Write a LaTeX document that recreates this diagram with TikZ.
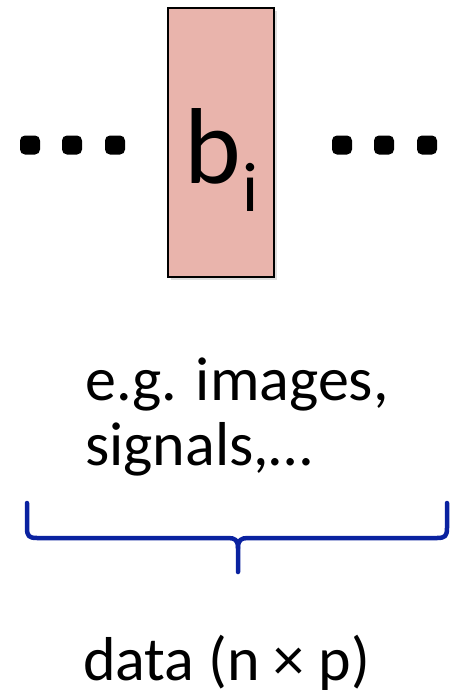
\documentclass[tikz,border=0pt]{standalone}
\usepackage{fontspec}
\setmainfont{Carlito}
\usepackage{xcolor}
\usepackage{tikz}
\usetikzlibrary{positioning, shadows}
\definecolor{blockpink}{RGB}{233,180,172}
\definecolor{bracenavy}{RGB}{10,34,160}

\begin{document}
\begin{tikzpicture}[
    x=1pt, y=-1pt,
    block/.style={draw, line width=1.5pt, fill=blockpink, minimum width=106pt,
                minimum height=269pt, inner sep=0pt,
                drop shadow={shadow xshift=2.5pt, shadow yshift=-2.5pt, opacity=0.25}},
    dotmark/.style={fill=black, minimum width=20pt, minimum height=19pt,
                inner sep=0pt, rounded corners=5pt},
    caption/.style={inner sep=0pt, align=left, font=\fontsize{62}{65}\selectfont},
    brace/.style={draw=bracenavy, line width=4.5pt, line cap=round, line join=round}
]
\useasboundingbox (0,0) rectangle (460,691);
\node[block] (bi) at (221,142.5) {};
\node[inner sep=0pt, anchor=base west] (bilabel) at (184,183)
    {\fontsize{108}{108}\selectfont b\kern2pt\raisebox{-28pt}{\fontsize{70}{70}\selectfont i}};
% dots either side of the block
\foreach \x [count=\k] in {30,72,115} {
    \node[dotmark] (ldot\k) at (\x,145) {};
}
\foreach \x [count=\k] in {342,384,427} {
    \node[dotmark] (rdot\k) at (\x,145) {};
}
\node[caption, anchor=base west] (examples) at (85,465) {e.g. images,\\signals,…};
% brace under the examples
\coordinate (tip) at (238,572);
\draw[brace] (27,503) -- (27,528) .. controls (27,536) and (29,538) .. (37,538)
    -- (228,538) .. controls (235,538) and (238,540) .. (238,548) -- (tip);
\draw[brace] (447,503) -- (447,528) .. controls (447,536) and (445,538) .. (437,538)
    -- (248,538) .. controls (241,538) and (238,540) .. (238,548);
\node[caption, anchor=base west] (datalabel) at (83,680) {data (n × p)};
\end{tikzpicture}
\end{document}
